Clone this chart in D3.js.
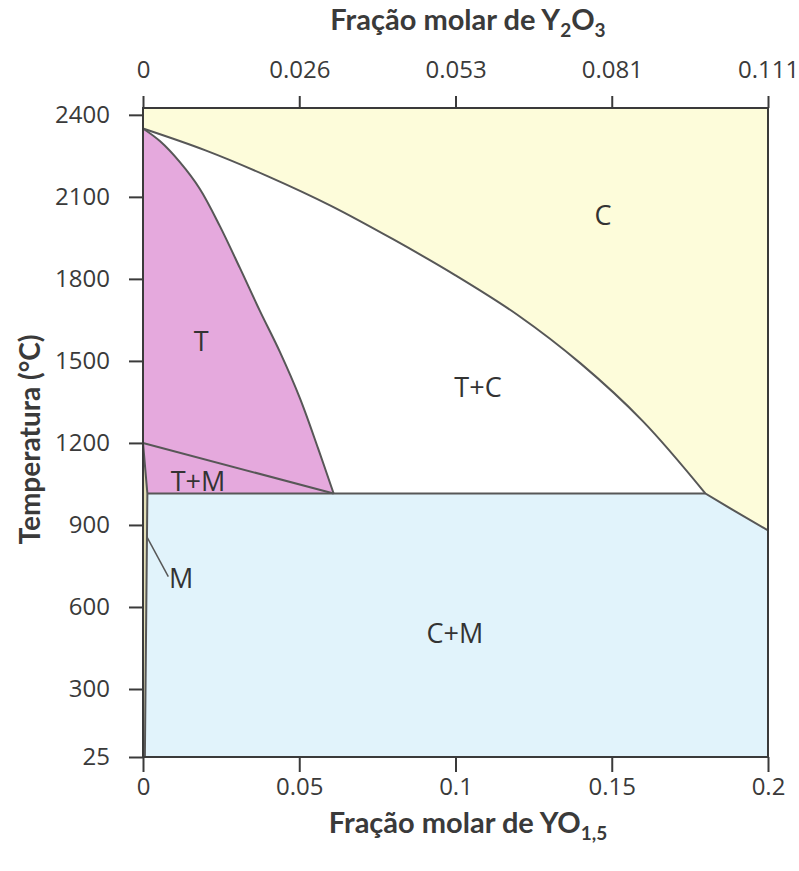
<!DOCTYPE html>
<html>
<head>
<meta charset="utf-8">
<script src="https://cdn.jsdelivr.net/npm/d3@7"></script>
<style>
  body { margin: 0; background: #fff; }
  svg { display: block; }
</style>
</head>
<body>
<script>
// axis data
const xTicks = [0, 0.05, 0.1, 0.15, 0.2];
const xTickLabels = ["0", "0.05", "0.1", "0.15", "0.2"];
const topTickLabels = ["0", "0.026", "0.053", "0.081", "0.111"];
const yTicks = [25, 300, 600, 900, 1200, 1500, 1800, 2100, 2400];

// phase boundaries (YO1.5 fraction, temperature)
const cubicX = [0, 0.02, 0.04, 0.06, 0.08, 0.10, 0.12, 0.14, 0.16, 0.18];
const cubicT = [2350, 2270, 2175, 2068, 1945, 1813, 1667, 1491, 1279, 1015];
const cubicLowX = [0.18, 0.189, 0.2];
const cubicLowT = [1015, 953, 880];
const tetraX = [0, 0.0054, 0.0118, 0.0182, 0.0246, 0.031, 0.0374, 0.0438, 0.0502, 0.056, 0.061];
const tetraT = [2350, 2304, 2227, 2129, 1993, 1840, 1683, 1533, 1364, 1181, 1015];
const monoX = [0, 0.0014, 0.0006];
const monoT = [1200, 1015, 25];
const eutectoidT = 1015;
const tmLineX = [0, 0.061];
const tmLineT = [1200, 1015];
const leaderX = [0.0012, 0.0081];
const leaderT = [857, 711];

// phase labels
const phaseNames = ["C", "T", "T+C", "T+M", "M", "C+M"];
const phaseX = [0.1472, 0.0186, 0.1072, 0.0176, 0.0122, 0.0998];
const phaseT = [2034, 1576, 1405, 1061, 706, 505];

const width = 799, height = 871;
const plot = {left: 143, right: 768, top: 108, bottom: 757};

const svg = d3.select("body").append("svg")
  .attr("width", width)
  .attr("height", height);

const x = d3.scaleLinear().domain([0, 0.2]).range([plot.left, plot.right]);
// bottom step (25 -> 300) is drawn shorter than the others
const y = d3.scaleLinear().domain([25, 300, 2425]).range([plot.bottom, 689, plot.top]);

const pts = (xs, ts) => xs.map((v, i) => [v, ts[i]]);
const curve = d3.line().x(d => x(d[0])).y(d => y(d[1])).curve(d3.curveCatmullRom.alpha(0.5));
const straight = d3.line().x(d => x(d[0])).y(d => y(d[1]));

const cubicPts = pts(cubicX, cubicT);
const tetraPts = pts(tetraX, tetraT);
const monoPts = pts(monoX, monoT);
const cubicLowPts = pts(cubicLowX, cubicLowT);

const colC = "#fdfcda", colT = "#e5a9dd", colCM = "#e1f3fb", colM = "#e3dfb6", colTC = "#ffffff";
const lineCol = "#575757";

// C region = whole plot
svg.append("rect")
  .attr("x", plot.left).attr("y", plot.top)
  .attr("width", plot.right - plot.left).attr("height", plot.bottom - plot.top)
  .attr("fill", colC);

// T+C region: cubic curve, along eutectoid, back up tetragonal curve
svg.append("path")
  .attr("d", curve(cubicPts) +
    curve(tetraPts.slice().reverse()).replace(/^M/, "L") + "Z")
  .attr("fill", colTC);

// T and T+M regions (same colour)
svg.append("path")
  .attr("d", curve(tetraPts) +
    "L" + x(monoX[1]) + "," + y(eutectoidT) +
    "L" + x(0) + "," + y(monoT[0]) + "Z")
  .attr("fill", colT);

// C+M region
svg.append("path")
  .attr("d", straight([[0, 25], [0.2, 25]].concat(cubicLowPts.slice().reverse(), [[0, eutectoidT]])) + "Z")
  .attr("fill", colCM);

// M strip
svg.append("path")
  .attr("d", straight(monoPts.concat([[0, 25]])) + "Z")
  .attr("fill", colM);

// boundary lines
const g = svg.append("g").attr("fill", "none").attr("stroke", lineCol).attr("stroke-width", 2);
g.append("path").attr("d", curve(cubicPts) + straight(cubicLowPts).replace(/^M/, "L"));
g.append("path").attr("d", curve(tetraPts));
g.append("path").attr("d", straight(pts(tmLineX, tmLineT)));
g.append("path").attr("d", straight([[monoX[1], eutectoidT], [cubicLowX[0], eutectoidT]]));
g.append("path").attr("d", straight(monoPts));
g.append("path").attr("d", straight(pts(leaderX, leaderT))).attr("stroke-width", 1.5);

// frame
svg.append("rect")
  .attr("x", plot.left).attr("y", plot.top)
  .attr("width", plot.right - plot.left).attr("height", plot.bottom - plot.top)
  .attr("fill", "none").attr("stroke", "#3a3a3a").attr("stroke-width", 2);

// axes
const tickFont = "'Open Sans', sans-serif";
function styleAxis(sel) {
  sel.select(".domain").remove();
  sel.selectAll(".tick line").attr("stroke", "#3a3a3a").attr("stroke-width", 2);
  sel.selectAll(".tick text").attr("fill", "#3a3a3a").style("font-family", tickFont).style("font-size", "24px");
}

svg.append("g")
  .attr("transform", `translate(0,${plot.bottom})`)
  .call(d3.axisBottom(x).tickValues(xTicks).tickSize(15).tickPadding(6)
    .tickFormat((d, i) => xTickLabels[i]))
  .call(styleAxis);

svg.append("g")
  .attr("transform", `translate(0,${plot.top})`)
  .call(d3.axisTop(x).tickValues(xTicks).tickSize(12).tickPadding(18)
    .tickFormat((d, i) => topTickLabels[i]))
  .call(styleAxis);

svg.append("g")
  .attr("transform", `translate(${plot.left},0)`)
  .call(d3.axisLeft(y).tickValues(yTicks).tickSize(14).tickPadding(19)
    .tickFormat(d3.format("d")))
  .call(styleAxis);

// phase labels
svg.append("g").selectAll("text")
  .data(phaseNames)
  .join("text")
  .attr("x", (d, i) => x(phaseX[i]))
  .attr("y", (d, i) => y(phaseT[i]))
  .attr("text-anchor", "middle")
  .attr("dominant-baseline", "central")
  .attr("fill", "#333")
  .style("font-family", tickFont)
  .style("font-size", "27px")
  .text(d => d);

// titles
const titleFont = "Lato, sans-serif";
const topTitle = svg.append("text")
  .attr("x", 468).attr("y", 30)
  .attr("text-anchor", "middle")
  .attr("fill", "#3a3a3a")
  .style("font-family", titleFont).style("font-weight", "bold").style("font-size", "29px");
topTitle.append("tspan").text("Fração molar de Y");
topTitle.append("tspan").attr("dy", 7).style("font-size", "19px").text("2");
topTitle.append("tspan").attr("dy", -7).text("O");
topTitle.append("tspan").attr("dy", 7).style("font-size", "19px").text("3");

const bottomTitle = svg.append("text")
  .attr("x", 468).attr("y", 833)
  .attr("text-anchor", "middle")
  .attr("fill", "#3a3a3a")
  .style("font-family", titleFont).style("font-weight", "bold").style("font-size", "29px");
bottomTitle.append("tspan").text("Fração molar de YO");
bottomTitle.append("tspan").attr("dy", 7).style("font-size", "19px").text("1,5");

svg.append("text")
  .attr("transform", `translate(40,${(plot.top + plot.bottom) / 2 + 7}) rotate(-90)`)
  .attr("text-anchor", "middle")
  .attr("fill", "#3a3a3a")
  .style("font-family", titleFont).style("font-weight", "bold").style("font-size", "28px")
  .text("Temperatura (°C)");
</script>
</body>
</html>
